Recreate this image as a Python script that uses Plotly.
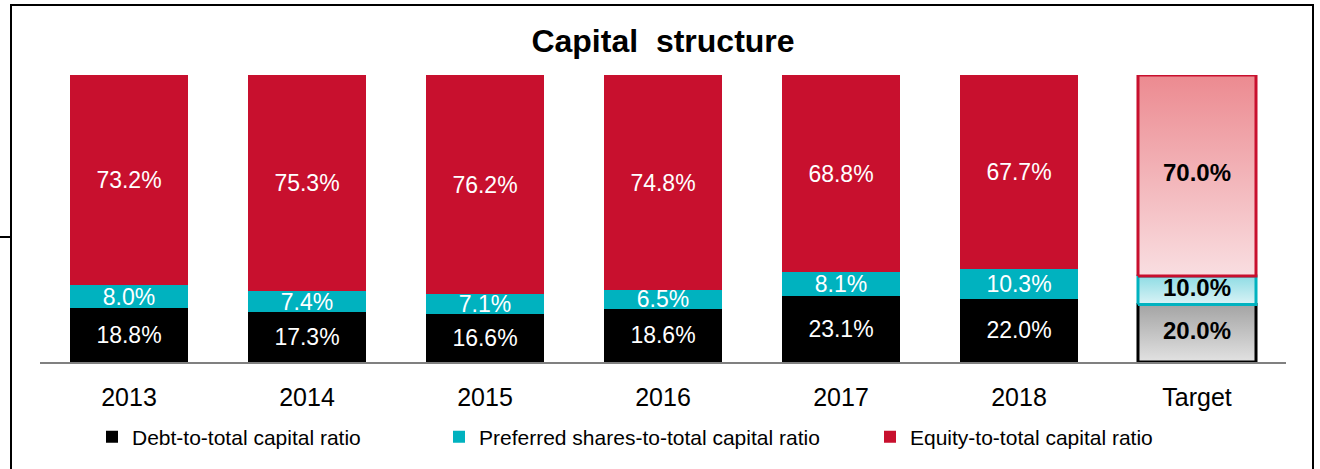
import plotly.graph_objects as go

# data
years = ["2013", "2014", "2015", "2016", "2017", "2018"]
target_label = "Target"
debt = [18.8, 17.3, 16.6, 18.6, 23.1, 22.0]
preferred = [8.0, 7.4, 7.1, 6.5, 8.1, 10.3]
equity = [73.2, 75.3, 76.2, 74.8, 68.8, 67.7]
target_values = [20.0, 10.0, 70.0]   # debt, preferred, equity
series_names = ["Debt-to-total capital ratio",
                "Preferred shares-to-total capital ratio",
                "Equity-to-total capital ratio"]

FONT = "Arial, Liberation Sans, sans-serif"
W, H = 1320, 469
L, R, T, B = 40, 34, 75, 107
RED, CYAN, BLACK = "#C8102E", "#00B2BF", "#000000"


def px_x(p):
    return (p - L) / (W - L - R)


def px_y(p):
    return (H - B - p) / (H - T - B)


xs = list(range(len(years)))
tx = len(years)
bw = 0.663

fig = go.Figure()

colors = [BLACK, CYAN, RED]
legends = ["legend", "legend2", "legend3"]
for name, vals, color, leg in zip(series_names, [debt, preferred, equity], colors, legends):
    fig.add_trace(go.Bar(
        x=xs, y=vals, name=name, width=bw,
        marker=dict(color=color, line_width=0),
        texttemplate="%{y:.1f}%", textposition="inside", insidetextanchor="middle",
        textangle=0, constraintext="none",
        textfont=dict(color="white", size=23, family=FONT),
        legend=leg, hoverinfo="skip",
    ))

# target bar with gradient fills
grads = [("#A4A4A4", "#E2E2E2"), ("#8EDCE4", "#DAF3F6"), ("#EC8A90", "#F9DEE1")]  # top, bottom
borders = [BLACK, CYAN, RED]
base = 0
mids = []
for val, (ctop, cbot), border in zip(target_values, grads, borders):
    top = base + val
    fig.add_trace(go.Scatter(
        x=[tx - bw / 2, tx + bw / 2, tx + bw / 2, tx - bw / 2, tx - bw / 2],
        y=[base, base, top, top, base],
        mode="lines", fill="toself",
        fillgradient=dict(type="vertical", colorscale=[[0, cbot], [1, ctop]], start=base, stop=top),
        line=dict(color=border, width=3),
        showlegend=False, hoverinfo="skip", cliponaxis=False,
    ))
    mids.append(base + val / 2)
    base = top

fig.add_trace(go.Scatter(
    x=[tx] * len(target_values), y=mids, mode="text",
    text=[f"{v:.1f}%" for v in target_values],
    textfont=dict(color="black", size=24, family=FONT, weight="bold"),
    showlegend=False, hoverinfo="skip", cliponaxis=False,
))

leg_text_x = [133, 480, 911]
leg_common = dict(orientation="h", yanchor="middle", xanchor="left",
                  y=px_y(437), font=dict(size=21, family=FONT, color="black"),
                  bgcolor="rgba(0,0,0,0)")

fig.update_layout(
    width=W, height=H,
    margin=dict(l=L, r=R, t=T, b=B),
    paper_bgcolor="white", plot_bgcolor="white",
    barmode="stack",
    title=dict(text="<b>Capital\u00a0 structure</b>", x=0.5, xref="paper", xanchor="center",
               y=1 - 41 / H, yanchor="middle",
               font=dict(size=32, family=FONT, color="black")),
    xaxis=dict(range=[-0.5, len(years) + 0.5], tickvals=xs + [tx], ticktext=years + [target_label],
               showline=True, linecolor="#808080", linewidth=2, showgrid=False, zeroline=False,
               ticks="", ticklabelstandoff=12,
               tickfont=dict(size=25, family=FONT, color="black")),
    yaxis=dict(range=[0, 100], visible=False),
    legend=dict(x=px_x(leg_text_x[0] - 41), **leg_common),
    legend2=dict(x=px_x(leg_text_x[1] - 41), **leg_common),
    legend3=dict(x=px_x(leg_text_x[2] - 41), **leg_common),
    shapes=[
        dict(type="rect", xref="paper", yref="paper",
             x0=px_x(11), x1=px_x(1313), y0=px_y(485), y1=px_y(5),
             line=dict(color="black", width=2), layer="below"),
        dict(type="line", xref="paper", yref="paper",
             x0=px_x(0), x1=px_x(11), y0=px_y(237), y1=px_y(237),
             line=dict(color="black", width=2)),
    ],
    showlegend=True,
)

fig.write_html("out.html", config={"displayModeBar": False},
               post_script="document.body.style.margin='0';")
